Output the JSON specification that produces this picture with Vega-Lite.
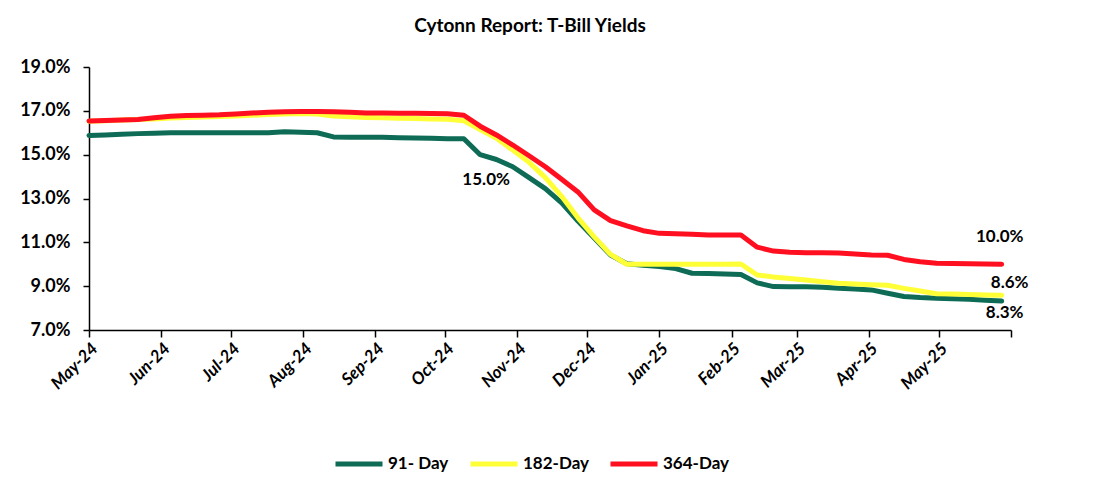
{
"$schema":"https://vega.github.io/schema/vega-lite/v6.json",
"width":922,"height":263,
"autosize":{"type":"none"},
"padding":{"left":89,"top":67,"right":97,"bottom":152},
"background":"white",
"title":{"text":"Cytonn Report: T-Bill Yields","font":"Lato","fontSize":19,"fontWeight":"bold","color":"black","anchor":"middle","dx":-20,"offset":22},
"config":{"view":{"stroke":null},"axis":{"grid":false,"domainColor":"black","domainWidth":1.5,"tickColor":"black","tickWidth":1.5,"labelColor":"black","labelFont":"Lato","labelFontWeight":"bold","labelFontSize":17}},
"data":{"values":[
{"date":"2024-05-03","series":"91- Day","value":15.88},{"date":"2024-05-10","series":"91- Day","value":15.90},{"date":"2024-05-17","series":"91- Day","value":15.93},{"date":"2024-05-24","series":"91- Day","value":15.96},{"date":"2024-05-31","series":"91- Day","value":15.98},{"date":"2024-06-07","series":"91- Day","value":16.00},{"date":"2024-06-14","series":"91- Day","value":16.00},{"date":"2024-06-21","series":"91- Day","value":16.00},{"date":"2024-06-28","series":"91- Day","value":16.00},{"date":"2024-07-05","series":"91- Day","value":16.00},{"date":"2024-07-12","series":"91- Day","value":16.00},{"date":"2024-07-19","series":"91- Day","value":16.00},{"date":"2024-07-26","series":"91- Day","value":16.05},{"date":"2024-08-02","series":"91- Day","value":16.02},{"date":"2024-08-09","series":"91- Day","value":16.00},{"date":"2024-08-16","series":"91- Day","value":15.81},{"date":"2024-08-23","series":"91- Day","value":15.80},{"date":"2024-08-30","series":"91- Day","value":15.80},{"date":"2024-09-06","series":"91- Day","value":15.79},{"date":"2024-09-13","series":"91- Day","value":15.77},{"date":"2024-09-20","series":"91- Day","value":15.76},{"date":"2024-09-27","series":"91- Day","value":15.75},{"date":"2024-10-04","series":"91- Day","value":15.73},{"date":"2024-10-11","series":"91- Day","value":15.73},{"date":"2024-10-18","series":"91- Day","value":15.00},{"date":"2024-10-25","series":"91- Day","value":14.78},{"date":"2024-11-01","series":"91- Day","value":14.45},{"date":"2024-11-08","series":"91- Day","value":13.95},{"date":"2024-11-15","series":"91- Day","value":13.45},{"date":"2024-11-22","series":"91- Day","value":12.80},{"date":"2024-11-29","series":"91- Day","value":11.97},{"date":"2024-12-06","series":"91- Day","value":11.20},{"date":"2024-12-13","series":"91- Day","value":10.42},{"date":"2024-12-20","series":"91- Day","value":10.02},{"date":"2024-12-27","series":"91- Day","value":9.95},{"date":"2025-01-03","series":"91- Day","value":9.90},{"date":"2025-01-10","series":"91- Day","value":9.80},{"date":"2025-01-17","series":"91- Day","value":9.59},{"date":"2025-01-24","series":"91- Day","value":9.58},{"date":"2025-01-31","series":"91- Day","value":9.55},{"date":"2025-02-07","series":"91- Day","value":9.53},{"date":"2025-02-14","series":"91- Day","value":9.15},{"date":"2025-02-21","series":"91- Day","value":8.98},{"date":"2025-02-28","series":"91- Day","value":8.97},{"date":"2025-03-07","series":"91- Day","value":8.97},{"date":"2025-03-14","series":"91- Day","value":8.95},{"date":"2025-03-21","series":"91- Day","value":8.90},{"date":"2025-03-28","series":"91- Day","value":8.87},{"date":"2025-04-04","series":"91- Day","value":8.83},{"date":"2025-04-11","series":"91- Day","value":8.68},{"date":"2025-04-18","series":"91- Day","value":8.53},{"date":"2025-04-25","series":"91- Day","value":8.48},{"date":"2025-05-02","series":"91- Day","value":8.45},{"date":"2025-05-09","series":"91- Day","value":8.43},{"date":"2025-05-16","series":"91- Day","value":8.40},{"date":"2025-05-23","series":"91- Day","value":8.36},{"date":"2025-05-30","series":"91- Day","value":8.32},
{"date":"2024-05-03","series":"182-Day","value":16.52},{"date":"2024-05-10","series":"182-Day","value":16.55},{"date":"2024-05-17","series":"182-Day","value":16.58},{"date":"2024-05-24","series":"182-Day","value":16.60},{"date":"2024-05-31","series":"182-Day","value":16.63},{"date":"2024-06-07","series":"182-Day","value":16.67},{"date":"2024-06-14","series":"182-Day","value":16.70},{"date":"2024-06-21","series":"182-Day","value":16.72},{"date":"2024-06-28","series":"182-Day","value":16.74},{"date":"2024-07-05","series":"182-Day","value":16.76},{"date":"2024-07-12","series":"182-Day","value":16.80},{"date":"2024-07-19","series":"182-Day","value":16.83},{"date":"2024-07-26","series":"182-Day","value":16.86},{"date":"2024-08-02","series":"182-Day","value":16.88},{"date":"2024-08-09","series":"182-Day","value":16.85},{"date":"2024-08-16","series":"182-Day","value":16.76},{"date":"2024-08-23","series":"182-Day","value":16.73},{"date":"2024-08-30","series":"182-Day","value":16.70},{"date":"2024-09-06","series":"182-Day","value":16.68},{"date":"2024-09-13","series":"182-Day","value":16.66},{"date":"2024-09-20","series":"182-Day","value":16.65},{"date":"2024-09-27","series":"182-Day","value":16.63},{"date":"2024-10-04","series":"182-Day","value":16.62},{"date":"2024-10-11","series":"182-Day","value":16.55},{"date":"2024-10-18","series":"182-Day","value":16.15},{"date":"2024-10-25","series":"182-Day","value":15.75},{"date":"2024-11-01","series":"182-Day","value":15.21},{"date":"2024-11-08","series":"182-Day","value":14.65},{"date":"2024-11-15","series":"182-Day","value":13.95},{"date":"2024-11-22","series":"182-Day","value":13.10},{"date":"2024-11-29","series":"182-Day","value":12.12},{"date":"2024-12-06","series":"182-Day","value":11.25},{"date":"2024-12-13","series":"182-Day","value":10.45},{"date":"2024-12-20","series":"182-Day","value":10.00},{"date":"2024-12-27","series":"182-Day","value":10.00},{"date":"2025-01-03","series":"182-Day","value":10.00},{"date":"2025-01-10","series":"182-Day","value":10.00},{"date":"2025-01-17","series":"182-Day","value":10.00},{"date":"2025-01-24","series":"182-Day","value":10.00},{"date":"2025-01-31","series":"182-Day","value":10.00},{"date":"2025-02-07","series":"182-Day","value":10.01},{"date":"2025-02-14","series":"182-Day","value":9.51},{"date":"2025-02-21","series":"182-Day","value":9.42},{"date":"2025-02-28","series":"182-Day","value":9.35},{"date":"2025-03-07","series":"182-Day","value":9.28},{"date":"2025-03-14","series":"182-Day","value":9.20},{"date":"2025-03-21","series":"182-Day","value":9.13},{"date":"2025-03-28","series":"182-Day","value":9.10},{"date":"2025-04-04","series":"182-Day","value":9.07},{"date":"2025-04-11","series":"182-Day","value":9.04},{"date":"2025-04-18","series":"182-Day","value":8.90},{"date":"2025-04-25","series":"182-Day","value":8.78},{"date":"2025-05-02","series":"182-Day","value":8.65},{"date":"2025-05-09","series":"182-Day","value":8.64},{"date":"2025-05-16","series":"182-Day","value":8.62},{"date":"2025-05-23","series":"182-Day","value":8.60},{"date":"2025-05-30","series":"182-Day","value":8.59},
{"date":"2024-05-03","series":"364-Day","value":16.54},{"date":"2024-05-10","series":"364-Day","value":16.56},{"date":"2024-05-17","series":"364-Day","value":16.58},{"date":"2024-05-24","series":"364-Day","value":16.60},{"date":"2024-05-31","series":"364-Day","value":16.68},{"date":"2024-06-07","series":"364-Day","value":16.75},{"date":"2024-06-14","series":"364-Day","value":16.79},{"date":"2024-06-21","series":"364-Day","value":16.80},{"date":"2024-06-28","series":"364-Day","value":16.82},{"date":"2024-07-05","series":"364-Day","value":16.86},{"date":"2024-07-12","series":"364-Day","value":16.90},{"date":"2024-07-19","series":"364-Day","value":16.93},{"date":"2024-07-26","series":"364-Day","value":16.96},{"date":"2024-08-02","series":"364-Day","value":16.97},{"date":"2024-08-09","series":"364-Day","value":16.97},{"date":"2024-08-16","series":"364-Day","value":16.96},{"date":"2024-08-23","series":"364-Day","value":16.93},{"date":"2024-08-30","series":"364-Day","value":16.90},{"date":"2024-09-06","series":"364-Day","value":16.90},{"date":"2024-09-13","series":"364-Day","value":16.89},{"date":"2024-09-20","series":"364-Day","value":16.89},{"date":"2024-09-27","series":"364-Day","value":16.88},{"date":"2024-10-04","series":"364-Day","value":16.87},{"date":"2024-10-11","series":"364-Day","value":16.80},{"date":"2024-10-18","series":"364-Day","value":16.30},{"date":"2024-10-25","series":"364-Day","value":15.90},{"date":"2024-11-01","series":"364-Day","value":15.44},{"date":"2024-11-08","series":"364-Day","value":14.95},{"date":"2024-11-15","series":"364-Day","value":14.45},{"date":"2024-11-22","series":"364-Day","value":13.88},{"date":"2024-11-29","series":"364-Day","value":13.30},{"date":"2024-12-06","series":"364-Day","value":12.48},{"date":"2024-12-13","series":"364-Day","value":11.99},{"date":"2024-12-20","series":"364-Day","value":11.75},{"date":"2024-12-27","series":"364-Day","value":11.53},{"date":"2025-01-03","series":"364-Day","value":11.41},{"date":"2025-01-10","series":"364-Day","value":11.39},{"date":"2025-01-17","series":"364-Day","value":11.37},{"date":"2025-01-24","series":"364-Day","value":11.33},{"date":"2025-01-31","series":"364-Day","value":11.33},{"date":"2025-02-07","series":"364-Day","value":11.33},{"date":"2025-02-14","series":"364-Day","value":10.78},{"date":"2025-02-21","series":"364-Day","value":10.60},{"date":"2025-02-28","series":"364-Day","value":10.55},{"date":"2025-03-07","series":"364-Day","value":10.52},{"date":"2025-03-14","series":"364-Day","value":10.52},{"date":"2025-03-21","series":"364-Day","value":10.51},{"date":"2025-03-28","series":"364-Day","value":10.47},{"date":"2025-04-04","series":"364-Day","value":10.42},{"date":"2025-04-11","series":"364-Day","value":10.41},{"date":"2025-04-18","series":"364-Day","value":10.22},{"date":"2025-04-25","series":"364-Day","value":10.11},{"date":"2025-05-02","series":"364-Day","value":10.05},{"date":"2025-05-09","series":"364-Day","value":10.03},{"date":"2025-05-16","series":"364-Day","value":10.02},{"date":"2025-05-23","series":"364-Day","value":10.01},{"date":"2025-05-30","series":"364-Day","value":10.00}
]},
"encoding":{
"x":{"field":"date","type":"temporal","scale":{"type":"utc","domain":[{"year":2024,"month":5,"date":3,"utc":true},{"year":2025,"month":6,"date":3,"utc":true}]},
"axis":{"title":null,"values":[{"year":2024,"month":5,"date":3,"utc":true},{"year":2024,"month":6,"date":3,"utc":true},{"year":2024,"month":7,"date":3,"utc":true},{"year":2024,"month":8,"date":3,"utc":true},{"year":2024,"month":9,"date":3,"utc":true},{"year":2024,"month":10,"date":3,"utc":true},{"year":2024,"month":11,"date":3,"utc":true},{"year":2024,"month":12,"date":3,"utc":true},{"year":2025,"month":1,"date":3,"utc":true},{"year":2025,"month":2,"date":3,"utc":true},{"year":2025,"month":3,"date":3,"utc":true},{"year":2025,"month":4,"date":3,"utc":true},{"year":2025,"month":5,"date":3,"utc":true},{"year":2025,"month":6,"date":3,"utc":true}],
"labelExpr":"utcyear(datum.value)==2025 && utcmonth(datum.value)==5 ? '' : utcFormat(datum.value, '%b-%y')","labelAngle":-45,"labelFont":"Lato","labelFontWeight":"bold","labelFontStyle":"italic","labelFontSize":17,"labelColor":"black","tickSize":7,"labelPadding":3}},
"y":{"field":"value","type":"quantitative","scale":{"domain":[7,19]},
"axis":{"title":null,"values":[7,9,11,13,15,17,19],"labelExpr":"format(datum.value,'.1f')+'%'","labelFont":"Lato","labelFontWeight":"bold","labelFontSize":18,"labelColor":"black","tickSize":6,"labelPadding":13}}
},
"layer":[
{"mark":{"type":"line","strokeWidth":5,"strokeJoin":"round","strokeCap":"round"},
"encoding":{"color":{"field":"series","type":"nominal","scale":{"domain":["91- Day","182-Day","364-Day"],"range":["#0E6B55","#FFFF38","#FF0F1F"]},
"legend":{"title":null,"orient":"none","legendX":244,"legendY":371,"direction":"horizontal","symbolType":"stroke","symbolSize":2209,"symbolStrokeWidth":5,"labelFont":"Lato","labelFontSize":17,"labelFontWeight":"bold","labelColor":"black","labelOffset":3,"columnPadding":11}}}},
{"transform":[{"filter":"datum.series=='91- Day' && datum.value==15.0"},{"calculate":"format(datum.value,'.1f')+'%'","as":"lab"}],
"mark":{"type":"text","font":"Lato","fontSize":17,"fontWeight":"bold","color":"black","dx":6,"dy":25},"encoding":{"text":{"field":"lab"}}},
{"transform":[{"filter":"datum.series=='364-Day' && datum.value==10.0"},{"calculate":"format(datum.value,'.1f')+'%'","as":"lab"}],
"mark":{"type":"text","font":"Lato","fontSize":17,"fontWeight":"bold","color":"black","dx":-2,"dy":-27},"encoding":{"text":{"field":"lab"}}},
{"transform":[{"filter":"datum.series=='182-Day' && datum.value==8.59"},{"calculate":"format(datum.value,'.1f')+'%'","as":"lab"}],
"mark":{"type":"text","font":"Lato","fontSize":17,"fontWeight":"bold","color":"black","dx":8,"dy":-12},"encoding":{"text":{"field":"lab"}}},
{"transform":[{"filter":"datum.series=='91- Day' && datum.value==8.32"},{"calculate":"format(datum.value,'.1f')+'%'","as":"lab"}],
"mark":{"type":"text","font":"Lato","fontSize":17,"fontWeight":"bold","color":"black","dx":3,"dy":12},"encoding":{"text":{"field":"lab"}}}
]
}
